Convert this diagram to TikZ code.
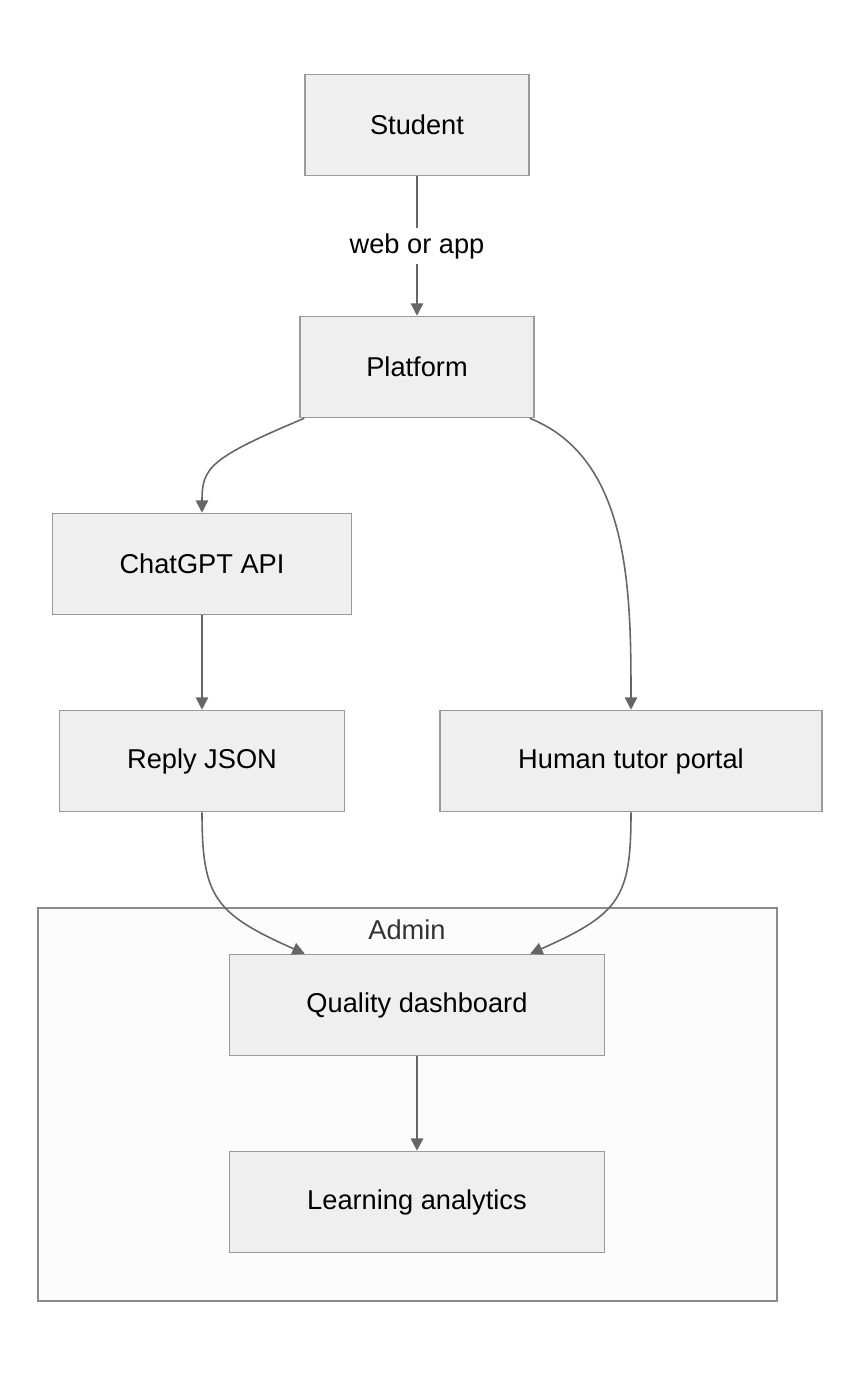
\documentclass[tikz,border=0pt]{standalone}
\usepackage{fontspec}
\setmainfont{Liberation Sans}
\usetikzlibrary{arrows.meta}
\definecolor{boxfill}{HTML}{EFEFEF}
\definecolor{boxline}{HTML}{9A9A9A}
\definecolor{linkgray}{HTML}{666666}
\definecolor{adminfill}{HTML}{FCFCFC}
\begin{document}
\begin{tikzpicture}[x=0.02cm, y=-0.02cm,
  box/.style={draw=boxline, fill=boxfill, line width=0.9pt, minimum height=2.02cm,
    font=\fontsize{15.5}{18}\selectfont, inner sep=0pt},
  link/.style={draw=linkgray, line width=0.9pt, -{Triangle[length=7pt, width=7pt]}}]
\useasboundingbox (0,0) rectangle (860,1376);

%admin
\draw [boxline!90!black, fill=adminfill, line width=0.9pt] (38,908) rectangle (777,1301);
\node [font=\fontsize{15.5}{18}\selectfont, text=black!80] (admin) at (407,930) {Admin};

%boxes
\node [box, minimum width=4.48cm] (student) at (417,125) {Student};
\node [box, minimum width=4.68cm] (platform) at (417,367) {Platform};
\node [box, minimum width=5.98cm] (chatgpt) at (202,564) {ChatGPT API};
\node [box, minimum width=5.70cm] (reply) at (202,761) {Reply JSON};
\node [box, minimum width=7.64cm] (tutor) at (631,761) {Human tutor portal};
\node [box, minimum width=7.50cm] (quality) at (417,1005) {Quality dashboard};
\node [box, minimum width=7.50cm] (analytics) at (417,1202) {Learning analytics};

%ligacoes
\draw [link] (student) -- node [fill=white, inner sep=3pt, font=\fontsize{15.5}{18}\selectfont] (webapp) {web or app} (platform);
\draw [link] ([xshift=0.1cm]platform.south west) .. controls +(-95,40) and +(0,-45) .. (chatgpt.north);
\draw [link] ([xshift=-0.1cm]platform.south east) .. controls +(100,40) and +(0,-120) .. (tutor.north);
\draw [link] (chatgpt) -- (reply);
\draw [link] (reply.south) .. controls +(0,85) and +(-90,-40) .. ([xshift=1.52cm]quality.north west);
\draw [link] (tutor.south) .. controls +(0,85) and +(90,-40) .. ([xshift=-1.5cm]quality.north east);
\draw [link] (quality) -- (analytics);

\end{tikzpicture}
\end{document}
